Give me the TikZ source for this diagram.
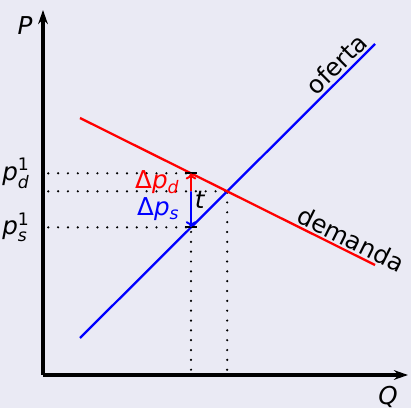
\documentclass[tikz,border=0pt]{standalone}
\usepackage{amsmath}
\usepackage{fontspec}
\setmainfont{DejaVu Sans}
\usetikzlibrary{arrows.meta}
\definecolor{fondo}{RGB}{234,234,244}
\newcommand{\precio}[1]{\textit{p}^{\textup{1}}_{\textit{#1}}}

\begin{document}
\begin{tikzpicture}[x=0.02cm,y=0.02cm,font=\fontsize{14}{16}\selectfont,
    eje/.style={line width=1.8pt,-{Stealth[length=8pt,width=5.5pt]}},
    curva/.style={line width=1.3pt},
    punteado/.style={line width=1.4pt,dash pattern=on 0pt off 5.6pt,line cap=round},
    flecha/.style={line width=1.1pt,-{To[length=3.5pt,width=6pt]}}]
        % Background
        \fill[fondo] (-43,-33) rectangle (368,375);
        \useasboundingbox (-43,-33) rectangle (368,375);

        % Points
        \coordinate (O) at (0,0);
        \coordinate (Pmax) at (0,365);
        \coordinate (Qmax) at (365,0);
        \coordinate (S1) at (37,37);
        \coordinate (S2) at (332,331);
        \coordinate (D1) at (37,257);
        \coordinate (D2) at (332,110);
        \coordinate (E) at (intersection of S1--S2 and D1--D2);
        \coordinate (T0) at (148,0);
        \coordinate (T1) at (148,340);
        \coordinate (Ts) at (intersection of S1--S2 and T0--T1);
        \coordinate (Td) at (intersection of D1--D2 and T0--T1);
        \coordinate (Te) at (T0 |- E);

        % Dotted guides
        \draw[punteado] ([xshift=3pt]O |- Td) -- (Td);
        \draw[punteado] ([xshift=3pt]O |- E) -- (E);
        \draw[punteado] ([xshift=3pt]O |- Ts) -- (Ts);
        \draw[punteado] ([yshift=3pt]T0) -- (Ts);
        \draw[punteado] ([yshift=3pt]E |- O) -- (E);

        % Axes
        \draw[eje] (O) -- (Pmax);
        \draw[eje] (O) -- (Qmax);
        \node (P) at (-18,349) {\textit{P}};
        \node (Q) at (345,-22) {\textit{Q}};

        % Supply and demand
        \draw[curva, blue] (S1) -- (S2) node[pos=0.9, sloped, above, inner sep=1.5pt, text=black] (oferta) {oferta};
        \draw[curva, red] (D1) -- (D2) node[pos=0.9, sloped, above, inner sep=1pt, text=black] (demanda) {demanda};

        % Tax wedge
        \draw[line width=1pt] ([xshift=-3.5pt]Td) -- ([xshift=3.5pt]Td);
        \draw[line width=1pt] ([xshift=-3.5pt]Ts) -- ([xshift=3.5pt]Ts);
        \draw[flecha, red] (Te) -- (Td) node[midway, left, inner sep=6pt] (dpd) {Δ\textit{p}\textsubscript{\textit{d}}};
        \draw[flecha, blue] (Te) -- (Ts) node[midway, left, inner sep=6pt] (dps) {Δ\textit{p}\textsubscript{\textit{s}}};
        \node[right, inner sep=2pt] (t) at (148,175) {\textit{t}};

        % Prices
        \node[left=4pt] (pd) at (O |- Td) {$\precio{d}$};
        \node[left=4pt] (ps) at (O |- Ts) {$\precio{s}$};
    \end{tikzpicture}
\end{document}
